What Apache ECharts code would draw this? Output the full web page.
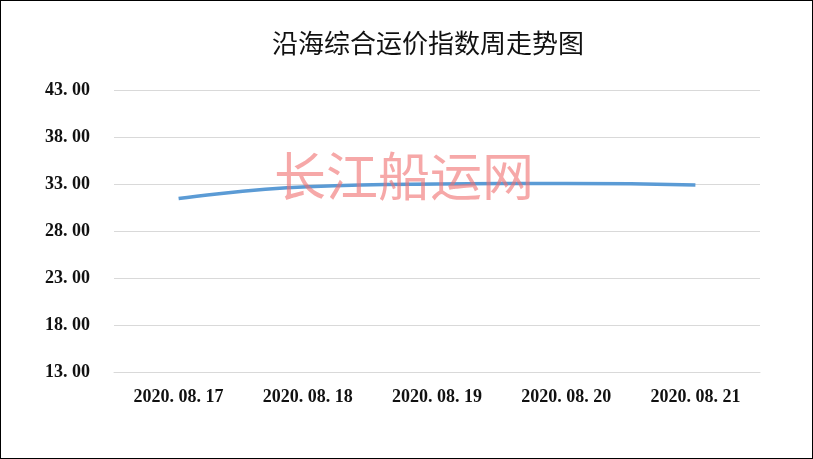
<!DOCTYPE html>
<html><head><meta charset="utf-8">
<script src="https://cdn.jsdelivr.net/npm/echarts@6/dist/echarts.min.js"></script>
<style>html,body{margin:0;padding:0;background:#fff}#c{width:813px;height:459px;box-sizing:border-box;border:1px solid #000;}</style>
</head><body><div id="c"></div>
<script>
const categories = ['2020.08.17','2020.08.18','2020.08.19','2020.08.20','2020.08.21'];
const values = [31.45, 32.7, 33.0, 33.05, 32.9];
const yMin = 13, yMax = 43, yStep = 5;
const titleText = '沿海综合运价指数周走势图';
const watermark = '长江船运网';

const chart = echarts.init(document.getElementById('c'));
chart.setOption({
  animation: false,
  backgroundColor: '#fff',
  title: {text: titleText, left: 266, top: 24,
    textStyle: {fontFamily: '"Noto Sans CJK SC"', fontWeight: 'normal', fontSize: 26, color: '#111'}},
  grid: {left: 113, right: 52, top: 89, bottom: 86},
  xAxis: {type: 'category', data: categories, boundaryGap: true,
    axisLine: {lineStyle: {color: '#d9d9d9'}}, axisTick: {show: false},
    axisLabel: {margin: 16, formatter: v => v.split('.').join('. '), fontFamily: '"Liberation Serif"', fontWeight: 'bold', fontSize: 18, color: '#111'}},
  yAxis: {type: 'value', min: yMin, max: yMax, interval: yStep,
    axisLine: {show: false}, axisTick: {show: false},
    splitLine: {lineStyle: {color: '#d9d9d9'}},
    axisLabel: {margin: 24, formatter: v => v.toFixed(2).replace('.', '. '), fontFamily: '"Liberation Serif"', fontWeight: 'bold', fontSize: 18, color: '#111'}},
  series: [{type: 'line', data: values, smooth: true, symbol: 'none',
    lineStyle: {color: '#5B9BD5', width: 3.5}}],
  graphic: [
    {type: 'text', left: 273, top: 149, z: 50,
      style: {text: watermark, font: '52px "Noto Sans CJK SC"', fill: 'rgba(240,110,110,0.6)',
        shadowBlur: 4, shadowColor: 'rgba(120,120,120,0.5)', shadowOffsetX: 2, shadowOffsetY: 2}}
  ]
});
</script></body></html>
